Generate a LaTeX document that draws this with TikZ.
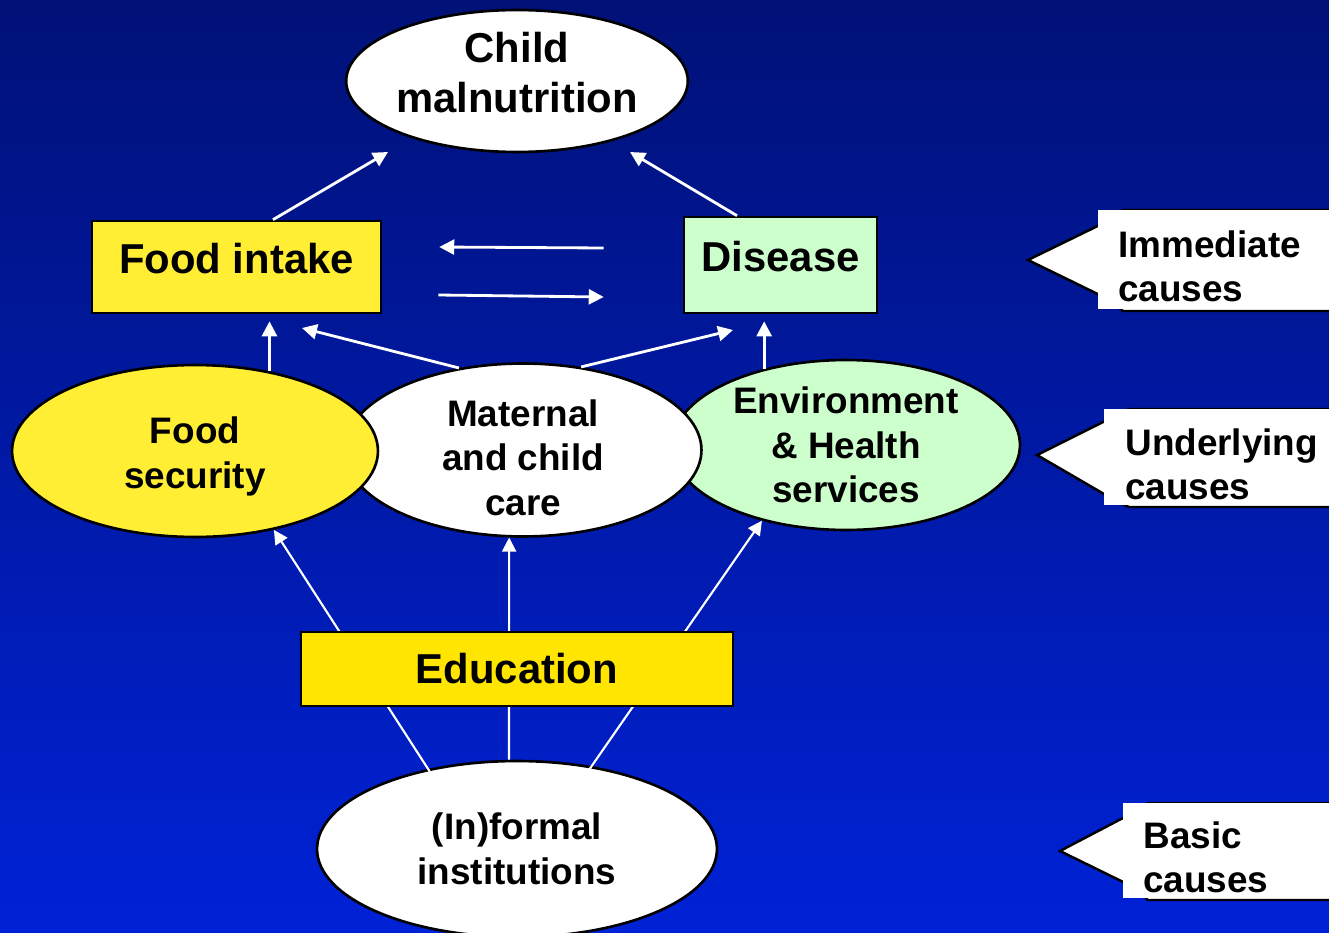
\documentclass[tikz,border=0pt]{standalone}
\usepackage{fontspec}
\setmainfont{Liberation Sans}
\usetikzlibrary{
  arrows.meta,
  calc,
  shapes.geometric
}
\definecolor{bgtop}{RGB}{0,17,119}
\definecolor{bgbot}{RGB}{0,34,214}
\definecolor{foodyel}{RGB}{255,238,51}
\definecolor{eduyel}{RGB}{255,229,0}
\definecolor{palegreen}{RGB}{204,255,204}
\tikzset{
  bigtxt/.style={font=\bfseries\fontsize{23.8}{28.3}\selectfont},
  midtxt/.style={font=\bfseries\fontsize{21}{25.5}\selectfont},
  oval/.style={ellipse, draw=black, line width=1.5pt, inner sep=0pt, align=center},
  causebox/.style={rectangle, draw=black, line width=1.5pt, inner sep=0pt, align=center},
  arr/.style={-{Triangle[length=8.5pt,width=8.5pt]}, draw=white, line width=1.6pt},
  link/.style={-{Triangle[length=8pt,width=8pt]}, draw=white, line width=1.2pt},
  callout/.style={fill=white, draw=black, line width=1.4pt, line join=miter},
  calltxt/.style={midtxt, align=left, inner sep=0pt, anchor=north west},
}

\begin{document}
\begin{tikzpicture}[x=0.02cm, y=-0.02cm]

\useasboundingbox (0,0) rectangle (1329,933);
\clip (0,0) rectangle (1329,933);
\shade[top color=bgtop, bottom color=bgbot] (0,0) rectangle (1329,933);

% --- Basic causes ---
\node[oval, midtxt, fill=white, minimum width=8cm, minimum height=3.52cm] (inst) at (517,849) {(In)formal\\institutions};

% --- Underlying causes (drawn right to left, food security on top) ---
\node[oval, midtxt, fill=palegreen, minimum width=6.96cm, minimum height=3.4cm] (envhealth) at (846,445) {Environment\\\& Health\\services};
\node[oval, midtxt, fill=white, minimum width=7.14cm, minimum height=3.46cm, inner ysep=-8pt] (mcare) at (523,450) {\rule{0pt}{24pt}Maternal\\and child\\care};
\node[oval, midtxt, fill=foodyel, minimum width=7.32cm, minimum height=3.44cm] (foodsec) at (195,451) {\rule{0pt}{21pt}Food\\security};

% links from institutions, running behind education
\draw[link, shorten <=-5pt] (inst.138) -- (foodsec.-45);
\draw[link] ($(inst.north)+(-8,0)$) -- (mcare.-99);
\draw[link, shorten <=-4pt] (inst.48) -- (envhealth.222);

\node[causebox, bigtxt, fill=eduyel, minimum width=8.64cm, minimum height=1.48cm] (educ) at (517,669) {Education};

% --- Immediate causes and outcome ---
\node[causebox, bigtxt, fill=foodyel, minimum width=5.78cm, minimum height=1.84cm, text depth=10pt] (foodint) at (236.5,267) {Food intake};
\node[causebox, bigtxt, fill=palegreen, minimum width=3.86cm, minimum height=1.92cm, text depth=10pt] (disease) at (780.5,265) {Disease};
\node[oval, bigtxt, fill=white, minimum width=6.72cm, minimum height=2.84cm] (malnut) at (517,81) {Child\\malnutrition\rule[-10pt]{0pt}{0pt}};

% arrow tips left short of their targets
\coordinate (malL) at (388,152);
\coordinate (malR) at (630,152);
\coordinate (fiR) at (302,328);
\coordinate (dsL) at (733,330);

\draw[arr] ($(foodint.north)+(36.5,0)$) -- (malL);
\draw[arr] ($(disease.north)+(-43.5,0)$) -- (malR);
\draw[arr] ($(disease.west)+(-79,-17)$) -- ($(foodint.east)+(57,-20)$);
\draw[arr] ($(foodint.east)+(56,28)$) -- ($(disease.west)+(-79,32)$);

\draw[arr, shorten >=4pt] (foodsec.47) -- (foodsec.47 |- foodint.south);
\draw[arr] (mcare.128) -- (fiR);
\draw[arr] (mcare.55) -- (dsL);
\draw[arr, shorten >=4pt] (envhealth.137) -- (envhealth.137 |- disease.south);

% --- Level labels on the right ---
\filldraw[callout] (1028,260) -- (1110,220) -- (1123,210) -- (1345,210) -- (1345,311) -- (1123,311) -- (1110,300) -- cycle;
\fill[white] (1098,210) rectangle (1329,309);
\node[calltxt] (lblimm) at (1118,230) {Immediate\\causes};

\filldraw[callout] (1037,455) -- (1116,415.5) -- (1129,409) -- (1345,409) -- (1345,507) -- (1129,507) -- (1116,501) -- cycle;
\fill[white] (1104,409) rectangle (1329,505);
\node[calltxt] (lblund) at (1125,428) {Underlying\\causes};

\filldraw[callout] (1060,851) -- (1135,811.7) -- (1148,803) -- (1345,803) -- (1345,900) -- (1148,900) -- (1135,887.8) -- cycle;
\fill[white] (1123,803) rectangle (1329,898);
\node[calltxt] (lblbas) at (1143,821) {Basic\\causes};

\end{tikzpicture}
\end{document}
